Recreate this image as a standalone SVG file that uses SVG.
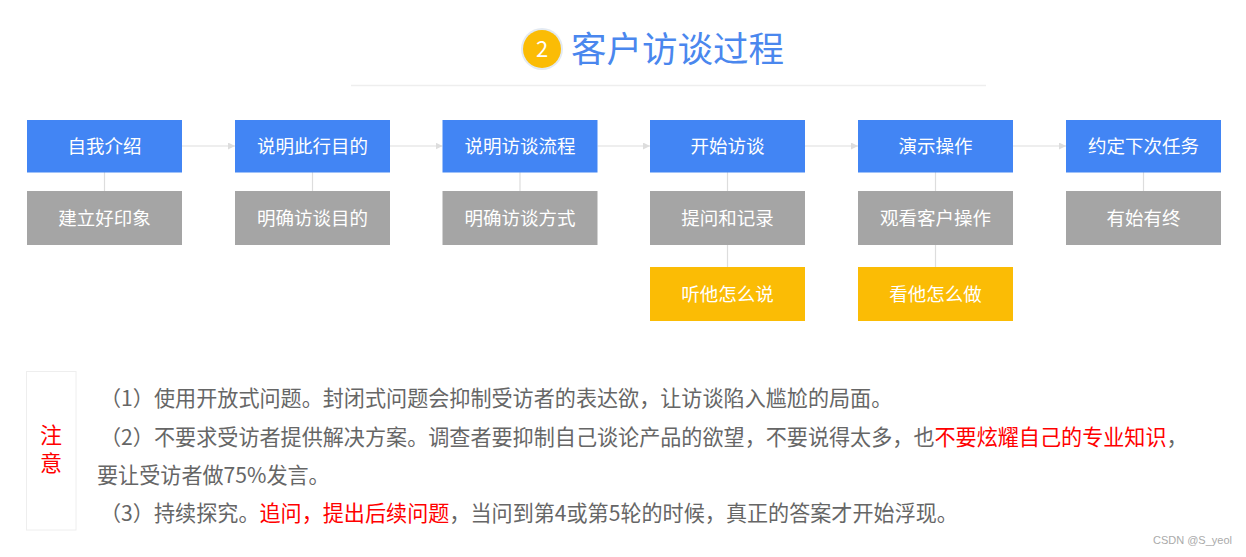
<svg xmlns="http://www.w3.org/2000/svg" width="1246" height="557" viewBox="0 0 1246 557">
<style>
text{font-family:"Noto Sans CJK SC","Noto Sans",sans-serif}
.blue{fill:#4285f4}
.gray{fill:#a5a5a5}
.yel{fill:#fbbc05}
.bt{fill:#ffffff;font-size:18.5px;text-anchor:middle}
.conn line{stroke:#dddddd;stroke-width:1.2}
.note{fill:#666666;font-size:21.1px}
.red{fill:#ff0000}
</style>
<defs>
<marker id="ah" markerWidth="8" markerHeight="8" refX="7" refY="3.5" orient="auto" markerUnits="userSpaceOnUse">
<path d="M0,0 L7,3.5 L0,7 Z" fill="#dddddd"/>
</marker>
</defs>
<rect width="1246" height="557" fill="#ffffff"/>
<g id="title">
<circle cx="542" cy="49" r="21" fill="#e3eaf2"/>
<circle cx="542" cy="49" r="19" fill="#fbbc05"/>
<text x="542" y="57" fill="#ffffff" font-size="22" text-anchor="middle">2</text>
<text x="571" y="62" fill="#4a87ee" font-size="35.5">客户访谈过程</text>
<line x1="351" y1="85.5" x2="986" y2="85.5" stroke="#eeeeee" stroke-width="1.5"/>
</g>
<g id="connectors" class="conn">
<line x1="182" y1="146" x2="235" y2="146" marker-end="url(#ah)"/>
<line x1="390" y1="146" x2="442.5" y2="146" marker-end="url(#ah)"/>
<line x1="597.5" y1="146" x2="650" y2="146" marker-end="url(#ah)"/>
<line x1="805" y1="146" x2="858" y2="146" marker-end="url(#ah)"/>
<line x1="1013" y1="146" x2="1066" y2="146" marker-end="url(#ah)"/>
<line x1="104.5" y1="172" x2="104.5" y2="191"/>
<line x1="312.5" y1="172" x2="312.5" y2="191"/>
<line x1="520" y1="172" x2="520" y2="191"/>
<line x1="727.5" y1="172" x2="727.5" y2="191"/>
<line x1="935.5" y1="172" x2="935.5" y2="191"/>
<line x1="1143.5" y1="172" x2="1143.5" y2="191"/>
<line x1="727.5" y1="245" x2="727.5" y2="267"/>
<line x1="935.5" y1="245" x2="935.5" y2="267"/>
</g>
<g id="n1"><rect class="blue" x="27" y="120" width="155" height="52.5"/><text class="bt" x="104.5" y="152.5">自我介绍</text></g>
<g id="n2"><rect class="blue" x="235" y="120" width="155" height="52.5"/><text class="bt" x="312.5" y="152.5">说明此行目的</text></g>
<g id="n3"><rect class="blue" x="442.5" y="120" width="155" height="52.5"/><text class="bt" x="520" y="152.5">说明访谈流程</text></g>
<g id="n4"><rect class="blue" x="650" y="120" width="155" height="52.5"/><text class="bt" x="727.5" y="152.5">开始访谈</text></g>
<g id="n5"><rect class="blue" x="858" y="120" width="155" height="52.5"/><text class="bt" x="935.5" y="152.5">演示操作</text></g>
<g id="n6"><rect class="blue" x="1066" y="120" width="155" height="52.5"/><text class="bt" x="1143.5" y="152.5">约定下次任务</text></g>
<g id="g1"><rect class="gray" x="27" y="191" width="155" height="54"/><text class="bt" x="104.5" y="224.5">建立好印象</text></g>
<g id="g2"><rect class="gray" x="235" y="191" width="155" height="54"/><text class="bt" x="312.5" y="224.5">明确访谈目的</text></g>
<g id="g3"><rect class="gray" x="442.5" y="191" width="155" height="54"/><text class="bt" x="520" y="224.5">明确访谈方式</text></g>
<g id="g4"><rect class="gray" x="650" y="191" width="155" height="54"/><text class="bt" x="727.5" y="224.5">提问和记录</text></g>
<g id="g5"><rect class="gray" x="858" y="191" width="155" height="54"/><text class="bt" x="935.5" y="224.5">观看客户操作</text></g>
<g id="g6"><rect class="gray" x="1066" y="191" width="155" height="54"/><text class="bt" x="1143.5" y="224.5">有始有终</text></g>
<g id="y4"><rect class="yel" x="650" y="267" width="155" height="54"/><text class="bt" x="727.5" y="300.5">听他怎么说</text></g>
<g id="y5"><rect class="yel" x="858" y="267" width="155" height="54"/><text class="bt" x="935.5" y="300.5">看他怎么做</text></g>
<g id="notice">
<rect x="26.5" y="371.5" width="49.5" height="158.5" fill="#ffffff" stroke="#eeeeee" stroke-width="1"/>
<text x="51" y="452" font-size="22" fill="#ff0000" text-anchor="middle" writing-mode="vertical-rl" letter-spacing="6">注意</text>
</g>
<g id="notes">
<text class="note" y="406"><tspan x="100">（1）</tspan><tspan x="154">使用开放式问题。封闭式问题会抑制受访者的表达欲，让访谈陷入尴尬的局面。</tspan></text>
<text class="note" y="445"><tspan x="100">（2）</tspan><tspan x="154">不要求受访者提供解决方案。调查者要抑制自己谈论产品的欲望，不要说得太多，也</tspan><tspan class="red">不要炫耀自己的专业知识</tspan><tspan>，</tspan></text>
<text class="note" x="97" y="483">要让受访者做75%发言。</text>
<text class="note" y="521"><tspan x="100">（3）</tspan><tspan x="154">持续探究。</tspan><tspan class="red">追问，提出后续问题</tspan><tspan>，当问到第4或第5轮的时候，真正的答案才开始浮现。</tspan></text>
</g>
<text x="1232" y="544" font-size="11" fill="#aaaaaa" text-anchor="end" style="font-family:'Liberation Sans',sans-serif">CSDN @S_yeol</text>
</svg>
